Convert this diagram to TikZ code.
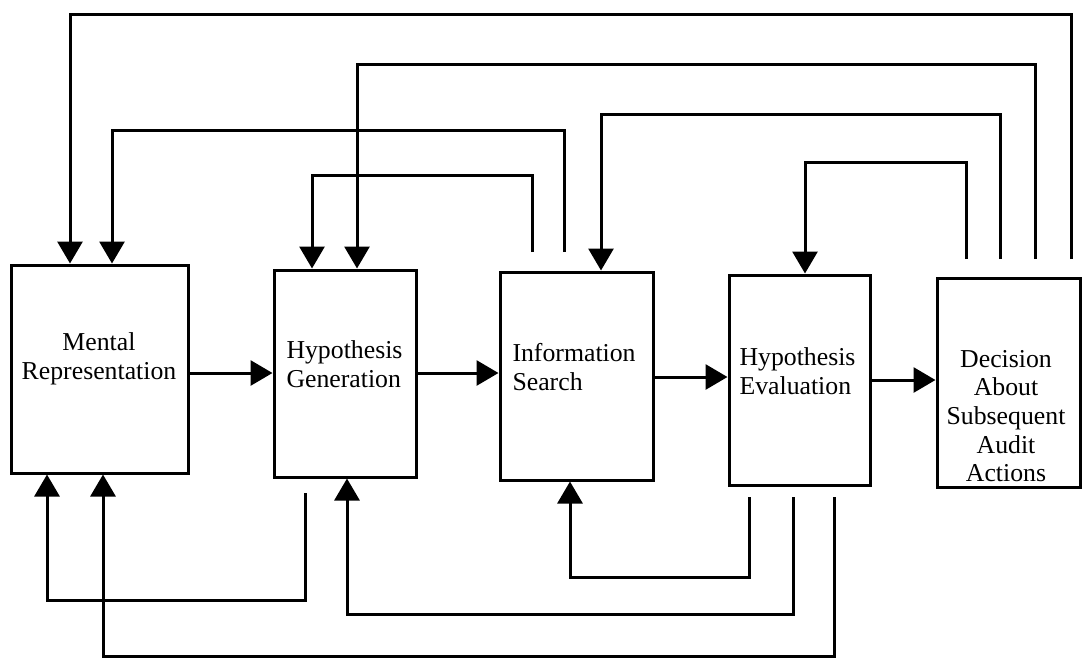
\documentclass[tikz,border=0pt]{standalone}
\usepackage{fontspec}
\setmainfont{Liberation Serif}
\usetikzlibrary{arrows.meta, positioning}

\begin{document}
\begin{tikzpicture}[x=0.3mm, y=-0.3mm, line width=0.9mm,
    box/.style={draw, rectangle, minimum height=62.4mm},
    txt/.style={inner sep=0pt, align=left, font=\fontsize{22}{24.5}\selectfont},
    arr/.style={-{Triangle[width=7.5mm, length=6.6mm]}, line join=miter}]
    \useasboundingbox (0,0) rectangle (1086,664);

    % Stages
    \node[box, minimum width=52.8mm] (mr) at (100,369) {};
    \node[box, minimum width=42.6mm, minimum height=62.1mm] (hg) at (345,373.5) {};
    \node[box, minimum width=45.9mm] (is) at (576.5,376) {};
    \node[box, minimum width=42.3mm, minimum height=63mm] (he) at (799.5,380) {};
    \node[box, minimum width=42.9mm, minimum height=62.7mm] (da) at (1008.5,382.5) {};

    \node[txt, align=center] (mrtxt) at (99,359) {Mental\\Representation};
    \node[txt, anchor=west] (hgtxt) at (285,364) {Hypothesis\\Generation};
    \node[txt, anchor=west] (istxt) at (511,367) {Information\\Search};
    \node[txt, anchor=west] (hetxt) at (738,371) {Hypothesis\\Evaluation};
    \node[txt, align=center] (datxt) at (1006,416) {Decision\\About\\Subsequent\\Audit\\Actions};

    % Forward flow
    \draw[arr] (mr.east |- 0,373) -- (hg.west |- 0,373);
    \draw[arr] (hg.east |- 0,373) -- (is.west |- 0,373);
    \draw[arr] (is.east |- 0,377) -- (he.west |- 0,377);
    \draw[arr] (he.east |- 0,380) -- (da.west |- 0,380);

    % Feedback over the top
    \coordinate (is1) at (532,252);
    \coordinate (is2) at (564,252);
    \coordinate (da1) at (966,259);
    \coordinate (da2) at (1000,259);
    \coordinate (da3) at (1035,259);
    \coordinate (da4) at (1071,259);
    \draw[arr] (da4) |- (70,14) -- (70,0 |- mr.north);
    \draw[arr] (da3) |- (357,64) -- (357,0 |- hg.north);
    \draw[arr] (da2) |- (601,114) -- (601,0 |- is.north);
    \draw[arr] (da1) |- (805,162) -- (805,0 |- he.north);
    \draw[arr] (is2) |- (112,130) -- (112,0 |- mr.north);
    \draw[arr] (is1) |- (312,175) -- (312,0 |- hg.north);

    % Feedback underneath
    \coordinate (hg1) at (305,493);
    \coordinate (he1) at (749,497);
    \coordinate (he2) at (793,497);
    \coordinate (he3) at (834,497);
    \draw[arr] (hg1) |- (47,600) -- (47,0 |- mr.south);
    \draw[arr] (he1) |- (570,577) -- (570,0 |- is.south);
    \draw[arr] (he2) |- (347,614) -- (347,0 |- hg.south);
    \draw[arr] (he3) |- (103,656) -- (103,0 |- mr.south);
\end{tikzpicture}
\end{document}
